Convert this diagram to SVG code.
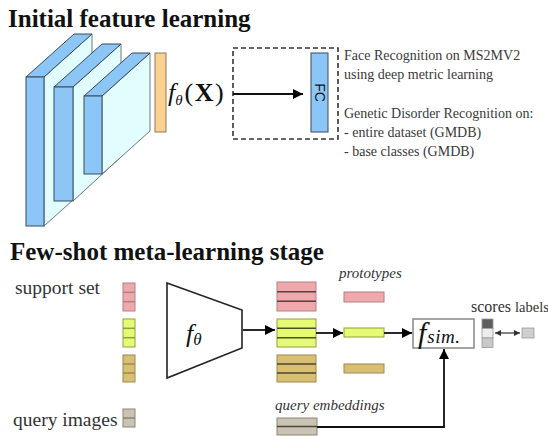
<svg xmlns="http://www.w3.org/2000/svg" width="548" height="436" viewBox="0 0 548 436">
  <defs>
    <marker id="arrow" viewBox="0 0 10 10" refX="10" refY="5" markerWidth="10" markerHeight="10" markerUnits="userSpaceOnUse" orient="auto">
      <path d="M0,0 L10,5 L0,10 z" fill="#000"/>
    </marker>
    <marker id="arrowSmall" viewBox="0 0 10 10" refX="10" refY="5" markerWidth="6" markerHeight="6" markerUnits="userSpaceOnUse" orient="auto-start-reverse">
      <path d="M0,0 L10,5 L0,10 z" fill="#333"/>
    </marker>
    <style>
      .title { font-family: "Liberation Serif", serif; font-weight: bold; font-size: 25px; fill: #111; }
      .txt { font-family: "Liberation Serif", serif; font-size: 14px; fill: #3a3a3a; }
      .lbl { font-family: "Liberation Serif", serif; font-size: 19.5px; fill: #333; }
      .small { font-family: "Liberation Serif", serif; font-size: 16px; fill: #333; }
      .ital { font-family: "Liberation Serif", serif; font-style: italic; font-size: 15px; fill: #333; }
      .math { font-family: "Liberation Serif", serif; font-style: italic; fill: #111; }
      .front { fill: #8cc6f7; stroke: #3a4a58; stroke-width: 1; }
      .top { fill: #8cc6f7; stroke: #3a4a58; stroke-width: 1; }
      .side { fill: #e2fdfd; stroke: #6a7a80; stroke-width: 1; }
      .pink { fill: #efa9ad; stroke: #b58084; stroke-width: 1; }
      .lime { fill: #e6fb73; stroke: #8fa040; stroke-width: 1; }
      .tan { fill: #d9bf73; stroke: #9c8a50; stroke-width: 1; }
      .gray { fill: #c9c3b3; stroke: #8a8577; stroke-width: 1; }
      .sep { stroke-width: 1.5; }
      .conn { fill: none; stroke: #111; stroke-width: 1.8; }
    </style>
  </defs>

  <!-- Section titles -->
  <text class="title" x="8" y="27">Initial feature learning</text>
  <text class="title" x="10" y="260">Few-shot meta-learning stage</text>

  <!-- Convolutional backbone: three slabs drawn back to front -->
  <g id="layer1">
    <polygon class="side" points="44,77 92,34 92,183 44,226"/>
    <polygon class="top" points="26,77 74,34 92,34 44,77"/>
    <rect class="front" x="26" y="77" width="18" height="149"/>
  </g>
  <g id="layer2">
    <polygon class="side" points="73,87 121,44 121,157 73,201"/>
    <polygon class="top" points="54,87 102,44 121,44 73,87"/>
    <rect class="front" x="54" y="87" width="19" height="114"/>
  </g>
  <g id="layer3">
    <polygon class="side" points="102,96 150,53 150,131 102,174"/>
    <polygon class="top" points="84,96 132,53 150,53 102,96"/>
    <rect class="front" x="84" y="96" width="18" height="78"/>
  </g>

  <!-- Feature vector -->
  <g id="feature">
    <rect x="155" y="53" width="11" height="79" fill="#fcd08e" stroke="#8a7a60" stroke-width="1"/>
    <text class="math" x="168" y="101" font-size="26">f<tspan font-size="15" dy="4">θ</tspan><tspan dy="-4" dx="2" font-style="normal">(</tspan><tspan font-style="normal" font-weight="bold" dx="1.5">X</tspan><tspan font-style="normal" dx="1.5">)</tspan></text>
  </g>

  <!-- Training head -->
  <g id="head">
    <rect x="233" y="48" width="105" height="91" fill="none" stroke="#333" stroke-width="1.6" stroke-dasharray="5,3"/>
    <rect x="311" y="53" width="17" height="79" fill="#8cc6f7" stroke="#3a4a58" stroke-width="1"/>
    <text x="319.5" y="92.5" transform="rotate(90 319.5 92.5)" text-anchor="middle" dominant-baseline="central" font-family="Liberation Sans, sans-serif" font-size="14" fill="#111">FC</text>
  </g>

  <g id="head-notes">
    <text class="txt" x="344" y="60">Face Recognition on MS2MV2</text>
    <text class="txt" x="344" y="79">using deep metric learning</text>
    <text class="txt" x="344" y="118">Genetic Disorder Recognition on:</text>
    <text class="txt" x="344" y="137">- entire dataset (GMDB)</text>
    <text class="txt" x="344" y="156">- base classes (GMDB)</text>
  </g>

  <!-- Few-shot stage labels -->
  <text class="lbl" x="15" y="294">support set</text>
  <text class="lbl" x="13" y="426">query images</text>

  <!-- Support images -->
  <g id="support-pink">
    <rect class="pink" x="123" y="283" width="12" height="28"/>
    <line class="sep" x1="123" y1="292.3" x2="135" y2="292.3" stroke="#b58084"/>
    <line class="sep" x1="123" y1="301.7" x2="135" y2="301.7" stroke="#b58084"/>
  </g>
  <g id="support-lime">
    <rect class="lime" x="123" y="319" width="12" height="28"/>
    <line class="sep" x1="123" y1="328.3" x2="135" y2="328.3" stroke="#8fa040"/>
    <line class="sep" x1="123" y1="337.7" x2="135" y2="337.7" stroke="#8fa040"/>
  </g>
  <g id="support-tan">
    <rect class="tan" x="123" y="355" width="12" height="27"/>
    <line class="sep" x1="123" y1="364" x2="135" y2="364" stroke="#9c8a50"/>
    <line class="sep" x1="123" y1="373" x2="135" y2="373" stroke="#9c8a50"/>
  </g>
  <g id="query-images">
    <rect class="gray" x="123" y="409" width="12" height="18"/>
    <line class="sep" x1="123" y1="418" x2="135" y2="418" stroke="#8a8577"/>
  </g>

  <!-- Embedding network -->
  <g id="encoder">
    <polygon points="167,283 242,310 242,348 167,378" fill="#fff" stroke="#222" stroke-width="1.6"/>
    <text class="math" x="186" y="342" font-size="26">f<tspan font-size="17" dy="3">θ</tspan></text>
  </g>

  <!-- Support embeddings -->
  <g id="emb-pink">
    <rect class="pink" x="277" y="282" width="39" height="29"/>
    <line x1="277" y1="291.7" x2="316" y2="291.7" stroke="#5a3e40" stroke-width="1.5"/>
    <line x1="277" y1="301.3" x2="316" y2="301.3" stroke="#5a3e40" stroke-width="1.5"/>
  </g>
  <g id="emb-lime">
    <rect class="lime" x="277" y="319" width="39" height="28"/>
    <line x1="277" y1="328.3" x2="316" y2="328.3" stroke="#4a5020" stroke-width="1.5"/>
    <line x1="277" y1="337.7" x2="316" y2="337.7" stroke="#4a5020" stroke-width="1.5"/>
  </g>
  <g id="emb-tan">
    <rect class="tan" x="277" y="355" width="39" height="27"/>
    <line x1="277" y1="364" x2="316" y2="364" stroke="#4e4428" stroke-width="1.5"/>
    <line x1="277" y1="373" x2="316" y2="373" stroke="#4e4428" stroke-width="1.5"/>
  </g>

  <!-- Prototypes -->
  <text class="ital" x="339" y="278">prototypes</text>
  <g id="proto-pink"><rect class="pink" x="344" y="292" width="40" height="10"/></g>
  <g id="proto-lime"><rect class="lime" x="344" y="328" width="40" height="9"/></g>
  <g id="proto-tan"><rect class="tan" x="344" y="364" width="40" height="9"/></g>

  <!-- Query embeddings -->
  <text class="ital" x="275" y="410">query embeddings</text>
  <g id="query-emb">
    <rect class="gray" x="277" y="418" width="40" height="17"/>
    <line x1="277" y1="426.5" x2="317" y2="426.5" stroke="#4a4638" stroke-width="1.5"/>
  </g>

  <!-- Similarity function -->
  <g id="fsim">
    <rect x="413" y="319" width="61" height="29" fill="#fff" stroke="#888" stroke-width="1.5"/>
    <text class="math" x="418" y="343" font-size="30">f<tspan font-size="19" dx="1" letter-spacing="0.5">sim.</tspan></text>
  </g>

  <!-- Scores and labels -->
  <text class="small" x="471" y="312">scores</text>
  <text class="small" x="515" y="312" style="font-size:14.5px">labels</text>
  <g id="scores">
    <rect x="482" y="319" width="11" height="9.5" fill="#5e5e5e" stroke="#999" stroke-width="0.8"/>
    <rect x="482" y="328.5" width="11" height="9.5" fill="#ececec" stroke="#999" stroke-width="0.8"/>
    <rect x="482" y="338" width="11" height="9.5" fill="#c9c9c9" stroke="#999" stroke-width="0.8"/>
  </g>
  <g id="labels">
    <rect x="522" y="328" width="12" height="10" fill="#cfcfcf" stroke="#999" stroke-width="0.8"/>
  </g>

  <!-- Connectors -->
  <g id="connectors">
    <line class="conn" x1="233" y1="94" x2="303" y2="94" marker-end="url(#arrow)"/>
    <line class="conn" x1="243" y1="330" x2="275" y2="330" marker-end="url(#arrow)"/>
    <line class="conn" x1="316" y1="333" x2="343" y2="333" marker-end="url(#arrow)"/>
    <line class="conn" x1="384" y1="333" x2="412" y2="333" marker-end="url(#arrow)"/>
    <polyline class="conn" points="317,427 444,427 444,349" marker-end="url(#arrow)"/>
    <line x1="495" y1="333" x2="520" y2="333" stroke="#333" stroke-width="1.2" marker-start="url(#arrowSmall)" marker-end="url(#arrowSmall)"/>
  </g>
</svg>
